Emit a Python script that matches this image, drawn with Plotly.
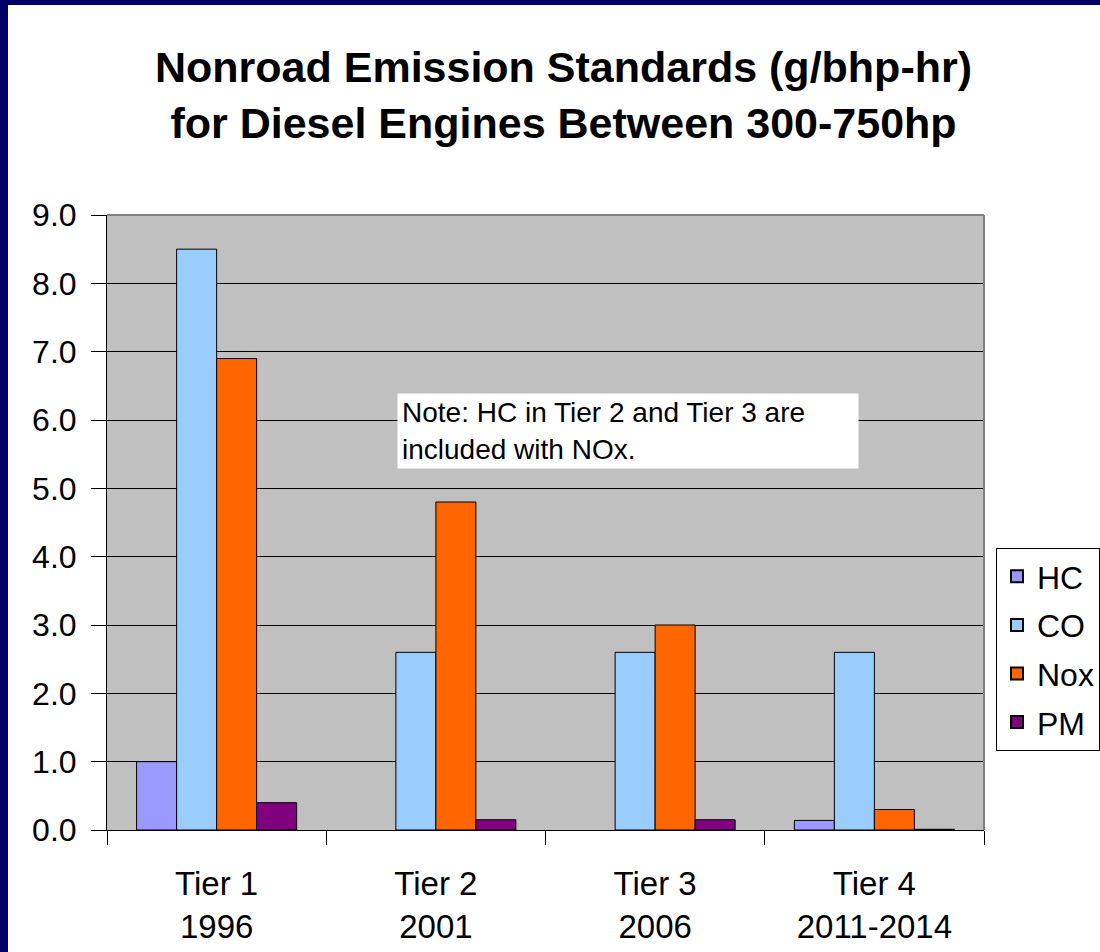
import plotly.graph_objects as go

categories = ["Tier 1<br>1996", "Tier 2<br>2001", "Tier 3<br>2006", "Tier 4<br>2011-2014"]
hc = [1.0, None, None, 0.14]
co = [8.5, 2.6, 2.6, 2.6]
nox = [6.9, 4.8, 3.0, 0.3]
pm = [0.4, 0.15, 0.15, 0.01]

series_names = ["HC", "CO", "Nox", "PM"]
series_colors = ["#9999FF", "#99CCFF", "#FF6600", "#800080"]
series_values = [hc, co, nox, pm]

FONT = "Liberation Sans, Arial, sans-serif"

fig = go.Figure()
for name, color, vals in zip(series_names, series_colors, series_values):
    fig.add_trace(go.Bar(
        x=categories, y=vals, name=name, legendgroup=name,
        marker=dict(color=color, line=dict(color="black", width=1)),
    ))

W, H = 1100, 952
L, R, T, B = 107, 116, 215, 122
pw, ph = W - L - R, H - T - B

def px(xp):
    return (xp - L) / pw

def py(yp):
    return (H - B - yp) / ph

fig.update_layout(
    width=W, height=H,
    margin=dict(l=L, r=R, t=T, b=B, pad=0, autoexpand=False),
    paper_bgcolor="white",
    plot_bgcolor="#C0C0C0",
    barmode="group",
    bargap=0.27,
    bargroupgap=0,
    font=dict(family=FONT, color="black"),
    showlegend=True,
    legend=dict(
        x=px(996), y=py(548), xanchor="left", yanchor="top",
        bgcolor="white", bordercolor="black", borderwidth=1,
        font=dict(size=32, family=FONT, color="black"),
        tracegroupgap=4, itemsizing="constant",
    ),
    xaxis=dict(
        showline=True, linecolor="black", linewidth=1,
        ticks="outside", tickson="boundaries", ticklen=14, tickcolor="black",
        tickfont=dict(size=33, family=FONT, color="black"),
        showgrid=False, ticklabelstandoff=24,
    ),
    yaxis=dict(
        range=[0, 9], dtick=1, tickformat=".1f",
        showline=True, linecolor="black", linewidth=1,
        ticks="outside", ticklen=15, tickcolor="black",
        tickfont=dict(size=32, family=FONT, color="black"),
        showgrid=True, gridcolor="black", gridwidth=1,
        zeroline=False, ticklabelstandoff=8,
    ),
)

# plot-area border (top and right, gray)
fig.add_shape(type="line", xref="paper", yref="paper", x0=0, x1=1, y0=1, y1=1,
              line=dict(color="#808080", width=2), layer="above")
fig.add_shape(type="line", xref="paper", yref="paper", x0=1, x1=1, y0=0, y1=1,
              line=dict(color="#808080", width=2), layer="above")

# navy slide frame (left and top strips)
navy = "#000066"
fig.add_shape(type="rect", xref="paper", yref="paper",
              x0=px(0), x1=px(8), y0=py(H), y1=py(0),
              fillcolor=navy, line=dict(width=0), layer="above")
fig.add_shape(type="rect", xref="paper", yref="paper",
              x0=px(0), x1=px(W), y0=py(5), y1=py(0),
              fillcolor=navy, line=dict(width=0), layer="above")

# title
fig.add_annotation(
    xref="paper", yref="paper", x=px(563), y=py(95),
    xanchor="center", yanchor="middle", showarrow=False,
    text="<b>Nonroad Emission Standards (g/bhp-hr)<br>for Diesel Engines Between 300-750hp</b>",
    font=dict(size=43, family=FONT, color="black"), align="center",
)

# note box
fig.add_annotation(
    xref="paper", yref="paper", x=px(397), y=py(393),
    xanchor="left", yanchor="top", showarrow=False,
    text="Note: HC in Tier 2 and Tier 3 are<br>included with NOx.",
    font=dict(size=28, family=FONT, color="black"), align="left",
    bgcolor="white", borderpad=4, width=452, height=66,
)

fig.write_html("out.html", config={"displayModeBar": False},
               post_script="document.body.style.margin='0px';")
